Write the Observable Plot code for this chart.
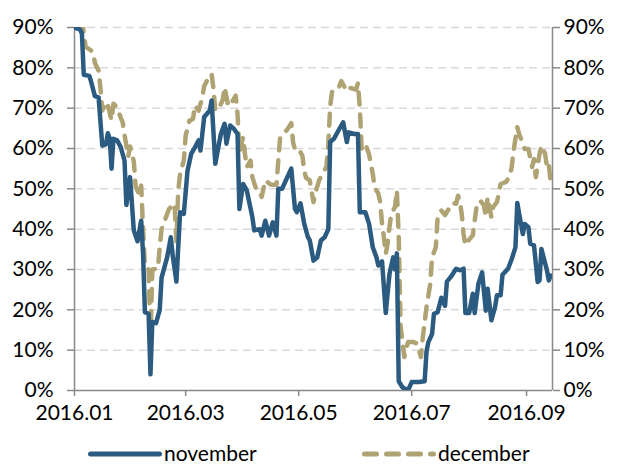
<!DOCTYPE html>
<html><head><meta charset="utf-8">
<script src="https://cdn.jsdelivr.net/npm/d3@7"></script>
<script src="https://cdn.jsdelivr.net/npm/@observablehq/plot@0.6"></script>
<style>
html,body{margin:0;padding:0;background:#fff;overflow:hidden;}
#wrap{position:relative;width:618px;height:464px;font-family:Lato,sans-serif;}
#legend{position:absolute;left:0;top:442px;width:618px;height:22px;font-size:21px;line-height:22px;color:#000;}
#legend .item{position:absolute;top:0;height:22px;display:flex;align-items:center;white-space:nowrap;}
#legend svg{display:block;}
</style></head><body><div id="wrap"><div id="chart"></div><div id="legend"></div></div>
<script>
const seriesNames = ["november", "december"];
const seriesColors = ["#2B5B80", "#B0A373"];
const yTicks = [0, 10, 20, 30, 40, 50, 60, 70, 80, 90];
const xTickDates = ["2016-01-01", "2016-03-01", "2016-05-01", "2016-07-01", "2016-09-01"];
const xDomain = ["2016-01-01", "2016-09-15"];

const novDates = ["2016-01-01","2016-01-04","2016-01-05","2016-01-06","2016-01-09","2016-01-10","2016-01-12","2016-01-14","2016-01-16","2016-01-18","2016-01-19","2016-01-20","2016-01-21","2016-01-22","2016-01-24","2016-01-26","2016-01-28","2016-01-29","2016-01-31",
"2016-02-02","2016-02-04","2016-02-06","2016-02-07","2016-02-08","2016-02-10","2016-02-11","2016-02-12","2016-02-14","2016-02-16","2016-02-17","2016-02-20","2016-02-22","2016-02-23","2016-02-25","2016-02-27","2016-02-29",
"2016-03-02","2016-03-04","2016-03-06","2016-03-08","2016-03-09","2016-03-11","2016-03-14","2016-03-15","2016-03-17","2016-03-19","2016-03-20","2016-03-22","2016-03-23","2016-03-25","2016-03-27","2016-03-29","2016-03-30",
"2016-04-01","2016-04-03","2016-04-06","2016-04-07","2016-04-10","2016-04-11","2016-04-13","2016-04-15","2016-04-17","2016-04-19","2016-04-20","2016-04-22","2016-04-24","2016-04-27","2016-04-29","2016-04-30",
"2016-05-02","2016-05-04","2016-05-06","2016-05-07","2016-05-09","2016-05-11","2016-05-13","2016-05-15","2016-05-17","2016-05-18","2016-05-20","2016-05-23","2016-05-25","2016-05-27","2016-05-28","2016-05-31",
"2016-06-02","2016-06-03","2016-06-06","2016-06-08","2016-06-10","2016-06-12","2016-06-13","2016-06-15","2016-06-17","2016-06-19","2016-06-21","2016-06-22","2016-06-23","2016-06-24","2016-06-26","2016-06-29",
"2016-07-01","2016-07-05","2016-07-08","2016-07-09","2016-07-10","2016-07-12","2016-07-13","2016-07-15","2016-07-17","2016-07-19","2016-07-20","2016-07-22","2016-07-25","2016-07-27","2016-07-29","2016-07-30",
"2016-08-01","2016-08-03","2016-08-04","2016-08-06","2016-08-08","2016-08-10","2016-08-11","2016-08-13","2016-08-15","2016-08-16","2016-08-18","2016-08-19","2016-08-22","2016-08-24","2016-08-26","2016-08-27","2016-08-28","2016-08-30","2016-08-31",
"2016-09-02","2016-09-03","2016-09-05","2016-09-07","2016-09-08","2016-09-09","2016-09-12","2016-09-13","2016-09-14"];
const novValues = [90,89.5,88.5,78.3,78,76.5,73,72.7,60.7,61,63.8,62.5,55,62.4,62,60.3,57,46,52.9,
39.7,37,42.1,34,19.4,19,4,17,16.7,20,28,33,38,33.5,27,44.2,43.8,
54.5,58.7,60.3,62,59.5,67.8,69.4,71.9,56.2,61.2,63.6,66.1,61.2,65.7,64.9,63.6,45,
51.2,49.6,43,39.7,40,38.4,42.1,38.4,41.7,38.4,50,50,52,55,45,44.2,
46.4,41.3,38,37.2,32.2,33,37.2,38,40,61.6,62.4,64.9,66.5,61.6,64,63.6,
63.6,44.2,44.2,41.3,35.5,33,31,32,19.2,28.9,33,30,34,2.3,0.8,0,
2.1,2.1,2.3,9.7,12,14,19,19.4,23,21,27,28.1,30.2,29.8,30.2,19.2,
19.2,24,19.2,26.4,29.3,19.8,25.2,17.4,20.7,23.6,23.6,28.7,30.2,32.6,35.5,46.5,43.8,38.8,41.3,
40.5,36.4,36,26.9,27.3,35.1,29.8,27.3,28.5];

const decDates = ["2016-01-05","2016-01-07","2016-01-11","2016-01-12","2016-01-14","2016-01-15","2016-01-16","2016-01-18","2016-01-19","2016-01-21","2016-01-22","2016-01-24","2016-01-26","2016-01-27","2016-01-28","2016-01-30","2016-01-31",
"2016-02-02","2016-02-03","2016-02-05","2016-02-06","2016-02-07","2016-02-08","2016-02-09","2016-02-10","2016-02-11","2016-02-12","2016-02-15","2016-02-16","2016-02-17","2016-02-19","2016-02-21","2016-02-23","2016-02-24","2016-02-25","2016-02-26","2016-02-27","2016-02-29",
"2016-03-01","2016-03-03","2016-03-05","2016-03-06","2016-03-08","2016-03-10","2016-03-11","2016-03-13","2016-03-15","2016-03-16","2016-03-17","2016-03-19","2016-03-21","2016-03-22","2016-03-24","2016-03-26","2016-03-28","2016-03-29","2016-03-30",
"2016-04-01","2016-04-02","2016-04-03","2016-04-05","2016-04-06","2016-04-08","2016-04-10","2016-04-11","2016-04-13","2016-04-16","2016-04-19","2016-04-20","2016-04-21","2016-04-22","2016-04-25","2016-04-27","2016-04-28","2016-04-29",
"2016-05-01","2016-05-03","2016-05-04","2016-05-05","2016-05-07","2016-05-08","2016-05-09","2016-05-10","2016-05-12","2016-05-14","2016-05-16","2016-05-17","2016-05-18","2016-05-19","2016-05-22","2016-05-24","2016-05-27","2016-05-29",
"2016-06-01","2016-06-02","2016-06-03","2016-06-04","2016-06-06","2016-06-08","2016-06-10","2016-06-11","2016-06-13","2016-06-14","2016-06-15","2016-06-16","2016-06-17","2016-06-18","2016-06-19","2016-06-20","2016-06-22","2016-06-23","2016-06-24","2016-06-25","2016-06-27","2016-06-29",
"2016-07-02","2016-07-04","2016-07-06","2016-07-07","2016-07-09","2016-07-11","2016-07-12","2016-07-14","2016-07-15","2016-07-17","2016-07-19","2016-07-21","2016-07-23","2016-07-25","2016-07-26","2016-07-27","2016-07-28","2016-07-29","2016-07-30",
"2016-08-01","2016-08-03","2016-08-04","2016-08-05","2016-08-07","2016-08-09","2016-08-10","2016-08-11","2016-08-13","2016-08-14","2016-08-16","2016-08-17","2016-08-18","2016-08-21","2016-08-23","2016-08-24","2016-08-25","2016-08-27","2016-08-28","2016-08-30","2016-08-31",
"2016-09-02","2016-09-04","2016-09-05","2016-09-06","2016-09-08","2016-09-09","2016-09-11","2016-09-12","2016-09-13","2016-09-14"];
const decValues = [92,85.3,83.9,81.2,79.3,75,69.4,71.5,70.7,67,71.1,70.2,67.6,66.5,63.4,58,60.5,
56.8,50.6,48.5,50.8,40,31,30.2,30,12.5,30,30.2,35.5,40,42.5,45,46,46.3,37,49.6,53.7,57,
63.2,66.9,67.4,70.7,69.4,72.7,75.5,77.2,78.5,74.8,69.4,70.1,72,75.2,70.5,71.5,73.1,68.5,59,
62.8,58.7,55.4,57,52.9,50,49.5,48,52.1,51,51,57,62.8,63.2,64.8,66.3,61.5,59.7,
59.9,58.2,54.5,52.7,52.1,49.3,46.7,49,52.1,53.8,55.5,61,70.5,74,74.4,76.7,74.2,75,
74.6,76.2,70,60,61.2,58.5,53.7,50.4,48.8,46.7,41.3,38,33.9,36.4,40.5,43.8,45.5,49.6,38,16,8.3,12,
12,11.6,8.3,13.2,20.7,26.4,33,35.5,43,44.6,43.5,45,46.5,46.3,48.3,46.7,43.8,38.8,36,
37.4,38.5,42.1,45.5,47.1,45.9,43,47.9,43,45.5,46.7,48.8,51.2,51.7,53.3,55.4,59.5,65.3,63.6,61.2,59.9,
59.9,55.4,57.4,52.9,58.7,60.7,58.7,55.4,56.2,51.7];

const parse = d3.utcParse("%Y-%m-%d");
const nov = novDates.map((d, i) => ({date: parse(d), value: novValues[i]}));
const dec = decDates.map((d, i) => ({date: parse(d), value: decValues[i]}));
const xd = xDomain.map(parse);
const xt = xTickDates.map(parse);
const axisGray = "#898989";

const chart = Plot.plot({
  width: 618, height: 440,
  marginLeft: 74, marginRight: 66, marginTop: 27, marginBottom: 50,
  style: {fontFamily: "Lato, sans-serif", fontSize: "21px", color: "#000", background: "#fff"},
  x: {type: "utc", domain: xd},
  y: {domain: [0, 90]},
  marks: [
    Plot.gridY(yTicks.filter(t => t > 0), {stroke: "#D9D9D9", strokeOpacity: 1, strokeWidth: 1.5, strokeDasharray: "8,5"}),
    Plot.ruleY([0], {stroke: axisGray, strokeWidth: 1.5}),
    Plot.ruleX([xd[0], xd[1]], {stroke: axisGray, strokeWidth: 1.5}),
    Plot.axisY(yTicks, {anchor: "left", tickSize: 7, tickPadding: 14, stroke: axisGray, strokeWidth: 1.5, fill: "#000", tickFormat: d => d + "%", label: null}),
    Plot.axisY(yTicks, {anchor: "right", tickSize: 7, tickPadding: 4, stroke: axisGray, strokeWidth: 1.5, fill: "#000", tickFormat: d => d + "%", label: null}),
    Plot.axisX(xt, {anchor: "bottom", tickSize: 6, tickPadding: 9, stroke: axisGray, strokeWidth: 1.5, fill: "#000", tickFormat: d3.utcFormat("%Y.%m"), label: null}),
    Plot.line(dec, {x: "date", y: "value", stroke: seriesColors[1], strokeWidth: 4.5, strokeDasharray: "12,10", strokeLinecap: "round", strokeLinejoin: "round", clip: true}),
    Plot.line(nov, {x: "date", y: "value", stroke: seriesColors[0], strokeWidth: 4.5, strokeLinecap: "round", strokeLinejoin: "round", clip: true})
  ]
});
document.getElementById("chart").appendChild(chart);

const legend = document.getElementById("legend");
const legendX = [88, 362];
seriesNames.forEach((name, i) => {
  const item = document.createElement("div");
  item.className = "item";
  item.style.left = legendX[i] + "px";
  const dash = i === 1 ? ' stroke-dasharray="12,10"' : '';
  item.innerHTML = `<svg width="74" height="22"><line x1="2.5" y1="12" x2="71.5" y2="12" stroke="${seriesColors[i]}" stroke-width="5" stroke-linecap="round"${dash}/></svg><span style="margin-left:2px">${name}</span>`;
  legend.appendChild(item);
});
</script></body></html>
